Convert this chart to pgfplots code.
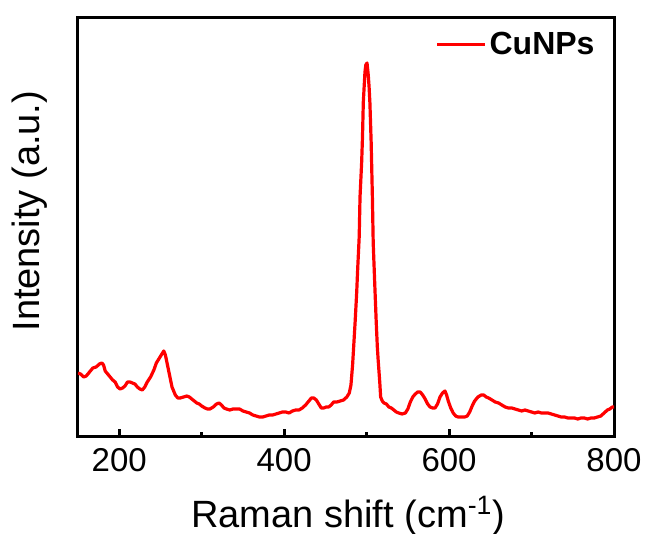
\documentclass[border=0pt]{standalone}
\usepackage{pgfplots}
\pgfplotsset{compat=1.18}
\usepackage{fontspec}
\setmainfont{Liberation Sans}
\begin{document}
\begin{tikzpicture}
\useasboundingbox (-39pt,-48.5pt) rectangle (285.5pt,218.5pt);
\begin{axis}[
  scale only axis,
  width=268pt, height=209.5pt,
  at={(0pt,0pt)}, anchor=south west,
  xmin=150, xmax=800, ymin=0, ymax=419,
  axis line style={line width=1.5pt},
  xtick={200,400,600,800},
  minor xtick={300,500,700},
  ytick=\empty,
  tick align=inside,
  xtick pos=bottom,
  major tick length=4pt,
  minor tick length=2.5pt,
  every tick/.style={black, line width=1.5pt},
  /pgf/number format/assume math mode=true,
  xticklabel style={font=\fontsize{16.5}{18}\selectfont, yshift=-2pt},
  xlabel={Raman shift (cm\textsuperscript{-1})},
  ylabel={Intensity (a.u.)},
  xlabel style={font=\fontsize{19}{22}\selectfont, at={(axis description cs:0.504,-0.215)}, anchor=base},
  ylabel style={font=\fontsize{19}{22}\selectfont, at={(axis description cs:-0.09,0.539)}, anchor=center, rotate=0},
  legend style={draw=none, fill=none, at={(axis description cs:0.97,0.975)}, anchor=north east,
    font=\fontsize{16}{18}\selectfont\bfseries, inner sep=0pt,
    nodes={inner sep=1.5pt}},
  legend image code/.code={\draw[#1] (0pt,0pt) -- (24pt,0pt);},
]
\addplot[red, line width=1.6pt, line join=round] coordinates {
(150,64)(153,63)(157,60)(160,61)(164,65)(168,69)(172,70)(176,73)(179,74)(181,72)
(183,66)(186,63)(189,60)(192,57)(195,55)(198,50)(201,48)(204,49)(207,51)(210,55)
(213,55)(216,54)(219,53)(222,50)(225,48)(228,47)(231,50)(234,55)(238,60)(242,67)
(245,74)(248,78)(251,82)(254,86)(256,82)(258,74)(260,66)(262,58)(264,50)(266,46)
(268,42)(271,39)(274,39)(278,40)(282,41)(285,40)(288,38)(291,36)(294,34)(297,33)
(300,31)(304,29)(307,28)(310,28)(314,30)(318,33)(321,34)(324,32)(327,29)(330,28)
(334,27)(338,28)(342,28)(346,28)(350,26)(354,25)(358,24)(362,22)(366,21)(370,20)
(374,20)(378,21)(382,22)(386,22)(390,23)(394,24)(398,25)(402,25)(406,24)(410,26)
(414,27)(418,27)(422,29)(426,32)(430,36)(433,39)(436,39)(439,37)(442,33)(445,29)
(448,29)(451,30)(454,30)(457,32)(460,35)(464,35)(468,36)(472,37)(476,40)(479,44)
(481,52)(483,72)(485,100)(486,114)(488,145)(489,165)(491,200)(492,240)(494,275)(495,300)
(496,335)(498,365)(499,372)(500.5,374)(502,362)(503,350)(504,334)(505.5,295)(507,240)(508,194)
(510,150)(511.7,114)(513,90)(514,77)(516,54)(517,40)(519,36)(521,34)(524,33)(527,30)
(530,29)(533,27)(536,25)(539,24)(543,23)(547,24)(550,28)(553,35)(556,40)(559,43)
(562,45)(565,45)(568,42)(571,38)(574,33)(577,30)(580,29)(583,29)(586,33)(589,40)
(592,44)(595,46)(597,42)(599,36)(602,29)(605,24)(608,21)(611,20)(615,20)(619,20)
(622,21)(625,25)(628,31)(631,36)(635,40)(639,42)(642,42)(645,40)(648,39)(652,37)
(656,35)(660,34)(664,32)(668,30)(672,29)(676,29)(680,28)(684,27)(688,26)(692,27)
(696,26)(700,25)(704,24)(708,25)(712,24)(716,24)(720,24)(724,23)(728,22)(732,21)
(736,20)(740,20)(744,19)(748,19)(752,19)(756,18)(760,19)(764,19)(768,18)(772,19)
(776,19)(780,20)(784,21)(788,24)(792,27)(795,28)(798,30)(800,30)
};
\addlegendentry{CuNPs}
\end{axis}
\end{tikzpicture}
\end{document}
